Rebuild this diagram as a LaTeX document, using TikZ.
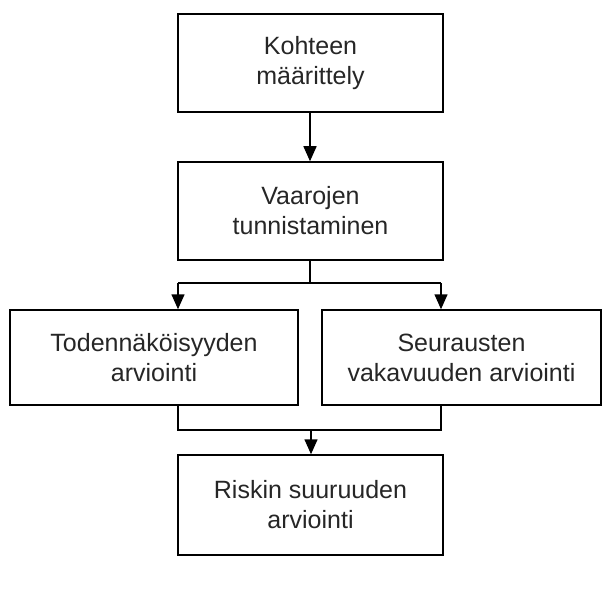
\documentclass[tikz,border=0pt]{standalone}
\usepackage{fontspec}
\setmainfont{Liberation Sans}
\usetikzlibrary{arrows.meta}
\begin{document}
\begin{tikzpicture}[x=1pt,y=1pt,
  stagebox/.style={draw, line width=1.5pt, align=center, inner sep=0pt,
    font=\fontsize{25}{30}\selectfont, text=black!85},
  link/.style={line width=1.5pt},
  flow/.style={link, -{Triangle[width=13pt,length=15pt]}}]
\useasboundingbox (0,0) rectangle (604,-588);

% process stages
\node[stagebox, minimum width=265, minimum height=98] (b1) at (310.5,-63) {Kohteen\\määrittely};
\node[stagebox, minimum width=265, minimum height=98] (b2) at (310.5,-211) {Vaarojen\\tunnistaminen};
\node[stagebox, minimum width=288, minimum height=95] (b3) at (154,-357.5) {Todennäköisyyden\\arviointi};
\node[stagebox, minimum width=279, minimum height=95] (b4) at (461.5,-357.5) {Seurausten\\vakavuuden arviointi};
\node[stagebox, minimum width=265, minimum height=100] (b5) at (310.5,-505) {Riskin suuruuden\\arviointi};

% branch and merge points
\coordinate (split) at (310,-283);
\coordinate (splitL) at (178,-283);
\coordinate (splitR) at (441,-283);
\coordinate (merge) at (311,-430);
\coordinate (mergeL) at (178,-430);
\coordinate (mergeR) at (441,-430);

% connectors
\draw[flow] (b1.south -| split) -- (b2.north -| split);
\draw[link] (b2.south -| split) -- (split);
\draw[link] (splitL) -- (splitR);
\draw[flow] (splitL) -- (b3.north -| splitL);
\draw[flow] (splitR) -- (b4.north -| splitR);
\draw[link] (b3.south -| mergeL) -- (mergeL) -- (mergeR) -- (b4.south -| mergeR);
\draw[flow] (merge) -- (b5.north -| merge);
\end{tikzpicture}
\end{document}
